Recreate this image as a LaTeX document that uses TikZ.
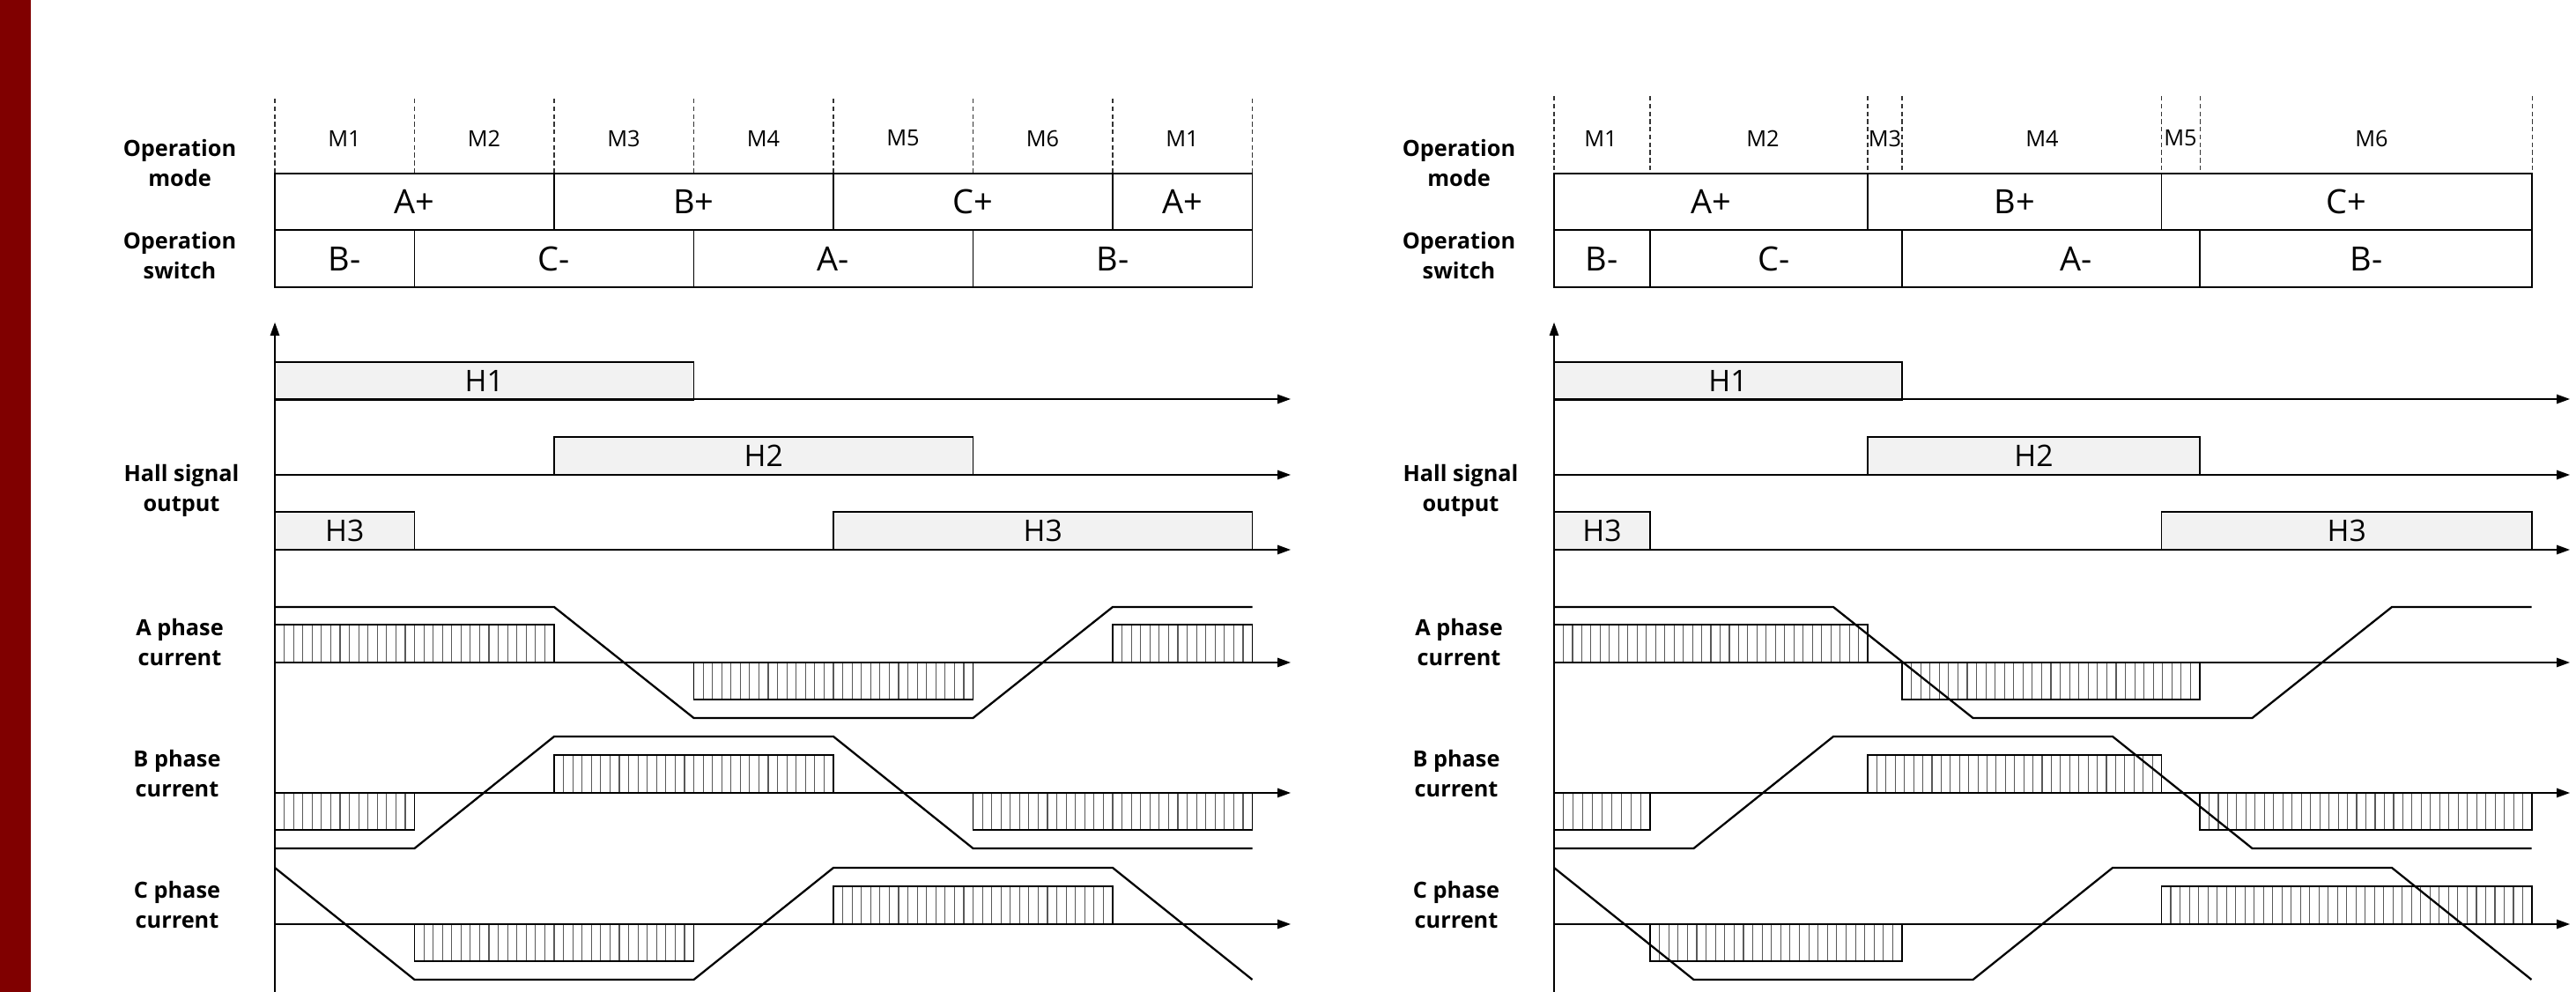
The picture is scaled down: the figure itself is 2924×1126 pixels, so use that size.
\documentclass[tikz,border=0pt]{standalone}
\usepackage{fontspec}
\setmainfont{Open Sans}
\usetikzlibrary{arrows.meta}

\definecolor{barred}{RGB}{128,0,0}
\definecolor{hallgray}{RGB}{242,242,242}

\begin{document}
\begin{tikzpicture}[
  x=0.1mm, y=-0.1mm,
  cell/.style={draw=black, line width=0.55pt},
  hallbox/.style={draw=black, fill=hallgray, line width=0.4pt},
  hatchbox/.style={draw=black, line width=0.4pt},
  hatchline/.style={draw=black!65, line width=0.32pt},
  wave/.style={line width=0.65pt, line join=miter},
  timeaxis/.style={line width=0.4pt, -{Triangle[length=1.5mm, width=1.05mm]}},
  modeline/.style={dash pattern=on 1.5pt off 1pt, line width=0.3pt, draw=black!80},
  rowlabel/.style={font=\bfseries\fontsize{7.2}{9.5}\selectfont, align=center},
  mlabel/.style={font=\fontsize{7.2}{8.5}\selectfont},
  celltext/.style={font=\fontsize{10.8}{12}\selectfont},
  halltext/.style={font=\fontsize{9.6}{11}\selectfont}
]
\useasboundingbox (0,0) rectangle (2924,1126);
\fill[barred] (0,0) rectangle (35,1126);

% left panel: operation mode / switch
\foreach \xx in {312,470.5,629,787.5,946,1104.5,1263,1421.5}
  \draw[modeline] (\xx,112) -- (\xx,197);
\foreach \xx/\txt [count=\i] in {391/M1,549.5/M2,708/M3,866.5/M4,1025/M5,1183.5/M6,1342/M1}
  \node[mlabel] (lm\i) at (\xx,157) {\txt};
\foreach \xa/\xb/\txt [count=\i] in {312/629/A+, 629/946/B+, 946/1263/C+, 1263/1421.5/A+} {
  \draw[cell] (\xa,197) rectangle (\xb,261);
  \node[celltext] (lmode\i) at ({(\xa+\xb)/2},229) {\txt};
}
\foreach \xa/\xb/\txt [count=\i] in {312/470.5/B-, 470.5/787.5/C-, 787.5/1104.5/A-, 1104.5/1421.5/B-} {
  \draw[cell] (\xa,261) rectangle (\xb,326);
  \node[celltext] (lsw\i) at ({(\xa+\xb)/2},293.5) {\txt};
}

% right panel: operation mode / switch
\foreach \xx in {1764,1873,2120,2159,2453.5,2497,2874}
  \draw[modeline] (\xx,109) -- (\xx,197);
\foreach \xx/\txt [count=\i] in {1817/M1,2001/M2,2139.5/M3,2318/M4,2475/M5,2692/M6}
  \node[mlabel] (rm\i) at (\xx,157) {\txt};
\foreach \xa/\xb/\txt [count=\i] in {1764/2120/A+, 2120/2453.5/B+, 2453.5/2874/C+} {
  \draw[cell] (\xa,197) rectangle (\xb,261);
  \node[celltext] (rmode\i) at ({(\xa+\xb)/2},229) {\txt};
}
\foreach \xa/\xb/\xt/\txt [count=\i] in {1764/1873/1818/B-, 1873/2159/2014/C-, 2159/2497/2357/A-, 2497/2874/2686/B-} {
  \draw[cell] (\xa,261) rectangle (\xb,326);
  \node[celltext] (rsw\i) at (\xt,293.5) {\txt};
}

% hall signals
\foreach \xa/\xb/\ya/\txt [count=\i] in {312/787.5/411/H1, 629/1104.5/496/H2, 312/470.5/581/H3, 946/1421.5/581/H3,
    1764/2159/411/H1, 2120/2497/496/H2, 1764/1873/581/H3, 2453.5/2874/581/H3} {
  \draw[hallbox] (\xa,\ya) rectangle (\xb,\ya+43);
  \node[halltext] (hall\i) at ({(\xa+\xb)/2},\ya+21) {\txt};
}

% hatched current blocks
\foreach \xa/\xb/\ya/\yb in {312/629/709/752, 787.5/1104.5/752/794, 1263/1421.5/709/752,
    312/470.5/900/942, 629/946/857/900, 1104.5/1421.5/900/942,
    470.5/787.5/1049/1091, 946/1263/1006/1049,
    1764/2120/709/752, 2159/2497/752/794,
    1764/1873/900/942, 2120/2453.5/857/900, 2497/2874/900/942,
    1873/2159/1049/1091, 2453.5/2874/1006/1049} {
  \pgfmathtruncatemacro\nn{round((\xb-\xa)/10.57)}
  \pgfmathsetmacro\dx{(\xb-\xa)/\nn}
  \foreach \k in {1,...,\nn}
    \draw[hatchline] ({\xa+\k*\dx},\ya) -- ({\xa+\k*\dx},\yb);
  \draw[hatchbox] (\xa,\ya) rectangle (\xb,\yb);
}

% axes, phase currents and row labels of both panels
\foreach \xo/\pn in {312/l, 1764/r} {
  \draw[timeaxis] (\xo,1126) -- (\xo,366);
  \foreach \yy in {453,539,624,752,900,1049}
    \draw[timeaxis] (\xo,\yy) -- ++(1153,0);
  \draw[wave] (\xo,689) -- ++(317,0) -- ++(158.5,126) -- ++(317,0) -- ++(158.5,-126) -- ++(158.5,0);
  \draw[wave] (\xo,963) -- ++(158.5,0) -- ++(158.5,-127) -- ++(317,0) -- ++(158.5,127) -- ++(317,0);
  \draw[wave] (\xo,985) -- ++(158.5,127) -- ++(317,0) -- ++(158.5,-127) -- ++(317,0) -- ++(158.5,127);
  \node[rowlabel] (\pn-mode) at (\xo-108,185) {Operation\\mode};
  \node[rowlabel] (\pn-switch) at (\xo-108,290) {Operation\\switch};
  \node[rowlabel] (\pn-hall) at (\xo-106,557) {Hall signal\\output};
  \node[rowlabel] (\pn-ia) at (\xo-108,729) {A phase\\current};
  \node[rowlabel] (\pn-ib) at (\xo-111,878) {B phase\\current};
  \node[rowlabel] (\pn-ic) at (\xo-111,1027) {C phase\\current};
}
\end{tikzpicture}
\end{document}
